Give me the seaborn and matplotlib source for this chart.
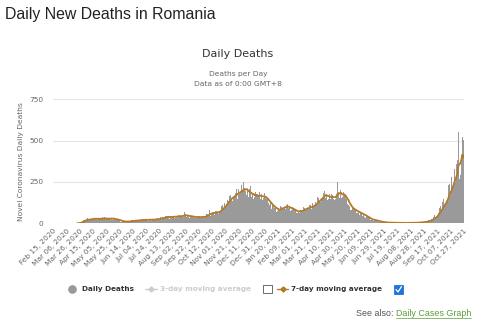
import numpy as np
import pandas as pd
import matplotlib
matplotlib.use("Agg")
import matplotlib.pyplot as plt
import seaborn as sns
from matplotlib.patches import Rectangle
from matplotlib.lines import Line2D

# ---------------- data ----------------
start_date = "2020-02-15"
# daily new deaths, one row per week (Sat..Fri) starting Feb 15, 2020
daily_deaths = [
    0, 0, 0, 0, 0, 0, 0,
    0, 0, 0, 0, 0, 0, 0,
    0, 0, 0, 0, 0, 0, 0,
    0, 0, 0, 0, 0, 0, 0,
    0, 0, 0, 0, 0, 0, 0,
    0, 1, 1, 2, 3, 4, 5,
    7, 9, 12, 14, 17, 19, 22,
    14, 28, 19, 30, 22, 16, 27,
    20, 33, 19, 35, 27, 21, 30,
    34, 18, 26, 38, 22, 31, 20,
    24, 35, 20, 31, 38, 22, 28,
    36, 21, 27, 33, 20, 31, 34,
    22, 34, 20, 37, 29, 21, 33,
    30, 18, 27, 17, 29, 20, 26,
    20, 11, 19, 10, 18, 9, 16,
    13, 6, 14, 7, 11, 15, 6,
    14, 8, 16, 9, 15, 7, 17,
    16, 19, 9, 18, 14, 21, 11,
    22, 13, 24, 15, 22, 12, 20,
    25, 15, 22, 26, 14, 23, 18,
    23, 27, 15, 25, 16, 26, 19,
    28, 16, 26, 19, 27, 17, 21,
    27, 31, 18, 32, 25, 19, 28,
    33, 38, 23, 35, 39, 24, 30,
    41, 44, 28, 47, 33, 42, 34,
    45, 29, 43, 48, 31, 38, 39,
    46, 32, 50, 34, 47, 36, 35,
    51, 36, 53, 39, 52, 37, 40,
    55, 40, 66, 41, 54, 38, 42,
    50, 36, 52, 35, 49, 38, 41,
    44, 30, 46, 31, 45, 33, 37,
    42, 30, 44, 29, 43, 31, 40,
    46, 33, 49, 32, 47, 34, 39,
    54, 48, 57, 46, 55, 82, 45,
    67, 58, 65, 55, 66, 75, 50,
    72, 60, 74, 63, 76, 58, 73,
    88, 75, 105, 80, 110, 85, 100,
    125, 105, 130, 115, 140, 120, 135,
    165, 140, 170, 150, 175, 135, 160,
    190, 160, 185, 170, 205, 150, 190,
    210, 175, 205, 190, 230, 165, 200,
    252, 180, 215, 195, 230, 170, 200,
    195, 160, 205, 150, 225, 160, 165,
    185, 150, 175, 160, 190, 145, 175,
    180, 145, 170, 160, 190, 150, 160,
    175, 140, 170, 155, 185, 140, 155,
    150, 120, 145, 125, 140, 110, 120,
    120, 85, 115, 90, 110, 90, 90,
    95, 70, 90, 75, 90, 70, 85,
    105, 80, 100, 90, 105, 85, 100,
    115, 85, 110, 90, 115, 90, 95,
    100, 75, 95, 80, 100, 78, 88,
    85, 60, 80, 62, 78, 65, 74,
    85, 65, 80, 68, 82, 70, 75,
    100, 78, 95, 85, 100, 80, 92,
    110, 85, 108, 90, 112, 88, 92,
    125, 100, 125, 105, 130, 110, 110,
    160, 125, 155, 135, 165, 130, 140,
    190, 150, 185, 160, 195, 155, 155,
    180, 140, 175, 150, 180, 145, 150,
    175, 135, 170, 150, 185, 140, 150,
    195, 160, 250, 165, 190, 155, 170,
    200, 155, 195, 160, 190, 150, 170,
    165, 125, 150, 115, 140, 110, 105,
    110, 80, 100, 78, 100, 75, 85,
    88, 62, 80, 65, 78, 60, 70,
    70, 48, 66, 50, 64, 45, 60,
    55, 36, 50, 34, 48, 32, 40,
    36, 20, 30, 19, 30, 18, 22,
    24, 13, 22, 14, 21, 12, 20,
    15, 7, 13, 6, 12, 6, 11,
    9, 4, 8, 3, 8, 4, 6,
    4, 5, 3, 4, 5, 3, 4,
    3, 2, 4, 3, 2, 3, 4,
    2, 3, 4, 2, 3, 3, 4,
    2, 1, 3, 2, 2, 3, 1,
    3, 2, 4, 3, 2, 3, 4,
    3, 4, 2, 3, 4, 2, 3,
    4, 5, 3, 4, 6, 3, 5,
    5, 7, 6, 8, 5, 6, 7,
    10, 7, 11, 8, 13, 9, 11,
    20, 15, 23, 17, 26, 18, 21,
    40, 30, 48, 33, 52, 36, 41,
    80, 60, 95, 68, 102, 70, 85,
    130, 95, 150, 105, 160, 110, 125,
    200, 150, 230, 165, 240, 170, 185,
    280, 220, 320, 240, 330, 250, 250,
    360, 300, 380, 555, 400, 265, 290,
    470, 400, 520, 440, 505,
]
y_ticks = [0, 250, 500, 750]
x_tick_every = 20

title_main = "Daily New Deaths in Romania"
chart_title = "Daily Deaths"
chart_subtitle = ["Deaths per Day", "Data as of 0:00 GMT+8"]
y_label = "Novel Coronavirus Daily Deaths"

# ---------------- derived table ----------------
n = len(daily_deaths)
dates = pd.date_range(start_date, periods=n, freq="D")
df = pd.DataFrame({"day": np.arange(n), "deaths": daily_deaths})
avg7 = df["deaths"].rolling(7).mean()
first = int(np.argmax(np.array(daily_deaths) > 0))
avg7.iloc[:first] = np.nan
df["avg7"] = avg7

# ---------------- figure ----------------
sns.set_theme(style="white")
plt.rcParams["font.family"] = ["DejaVu Sans"]

W, H = 480, 329
fig = plt.figure(figsize=(W / 100, H / 100), dpi=100)
fig.patch.set_facecolor("white")

def fx(px):
    return px / W

def fy(py):
    return 1 - py / H

ax = fig.add_axes([fx(53), fy(223.3), fx(464) - fx(53), fy(99.3) - fy(223.3)])

sns.barplot(data=df, x="day", y="deaths", native_scale=True, color="#9a9a9a",
            saturation=1, width=1.0, linewidth=0, ax=ax, zorder=2)
sns.lineplot(data=df, x="day", y="avg7", color="#b47a28", linewidth=1.3,
             ax=ax, zorder=3)

ax.set_xlim(-0.5, n - 0.5)
ax.set_ylim(0, 750)
ax.set_yticks(y_ticks)
ax.set_yticklabels([str(v) for v in y_ticks])
xt = list(range(0, n, x_tick_every))
ax.set_xticks(xt)
ax.set_xticklabels([dates[i].strftime("%b %d, %Y") for i in xt],
                   rotation=45, ha="right", rotation_mode="anchor")
ax.tick_params(axis="x", length=0, pad=3, labelsize=5.3, labelcolor="#666666")
ax.tick_params(axis="y", length=0, pad=7, labelsize=5.3, labelcolor="#666666")
for s in ax.spines.values():
    s.set_visible(False)
for v in y_ticks[1:]:
    ax.axhline(v, color="#e6e6e6", lw=0.8, zorder=0)
ax.axhline(0, color="#ccd6eb", lw=0.8, zorder=1)
ax.set_xlabel("")
ax.set_ylabel(y_label, fontsize=5.4, color="#666666")
ax.yaxis.set_label_coords((24 - 53) / 411, 0.5)

# ---------------- texts ----------------
fig.text(fx(5), fy(14), title_main, fontsize=11.4, family=["Liberation Sans", "DejaVu Sans"],
         color="#222222", va="center", ha="left")
fig.text(fx(238), fy(54), chart_title, fontsize=8, color="#333333", va="center", ha="center")
fig.text(fx(238), fy(74), chart_subtitle[0], fontsize=5.4, color="#666666", va="center", ha="center")
fig.text(fx(238), fy(84), chart_subtitle[1], fontsize=5.4, color="#666666", va="center", ha="center")

# ---------------- legend row ----------------
ly = fy(289)
fig.add_artist(Line2D([fx(72)], [ly], marker="o", markersize=5.2, color="#999999", lw=0))
fig.text(fx(82), ly, "Daily Deaths", fontsize=5.2, fontweight="bold", color="#333333", va="center")
fig.add_artist(Line2D([fx(145), fx(157)], [ly, ly], color="#cccccc", lw=1.0))
fig.add_artist(Line2D([fx(151)], [ly], marker="D", markersize=2.6, color="#cccccc", lw=0))
fig.text(fx(160), ly, "3-day moving average", fontsize=5.2, fontweight="bold", color="#cccccc", va="center")
fig.add_artist(Rectangle((fx(263), fy(293)), fx(8.5), fy(0) - fy(8.5), facecolor="white",
                         edgecolor="#555555", lw=0.6))
fig.add_artist(Line2D([fx(277), fx(288)], [ly, ly], color="#b47a28", lw=1.0))
fig.add_artist(Line2D([fx(282.5)], [ly], marker="D", markersize=2.6, color="#b47a28", lw=0))
fig.text(fx(291), ly, "7-day moving average", fontsize=5.2, fontweight="bold", color="#333333", va="center")
fig.add_artist(Rectangle((fx(394), fy(294)), fx(9), fy(0) - fy(9), facecolor="#1f74d6",
                         edgecolor="#1f74d6", lw=0.6))
fig.add_artist(Line2D([fx(396), fx(398), fx(401.5)], [fy(289.5), fy(292), fy(286.5)],
                      color="white", lw=0.9))

# ---------------- see also ----------------
t2 = fig.text(fx(471), fy(314), "Daily Cases Graph", fontsize=6.4,
              family=["Liberation Sans", "DejaVu Sans"],
              color="#5c9c3c", va="center", ha="right")
fig.canvas.draw()
bb = t2.get_window_extent()
fig.text((bb.x0 - 2) / W, fy(314), "See also:", fontsize=6.4,
         family=["Liberation Sans", "DejaVu Sans"],
         color="#555555", va="center", ha="right")
fig.add_artist(Line2D([bb.x0 / W, bb.x1 / W], [(bb.y0 + 0.5) / H, (bb.y0 + 0.5) / H],
                      color="#5c9c3c", lw=0.5))

fig.savefig("out.png", dpi=100, facecolor="white")
